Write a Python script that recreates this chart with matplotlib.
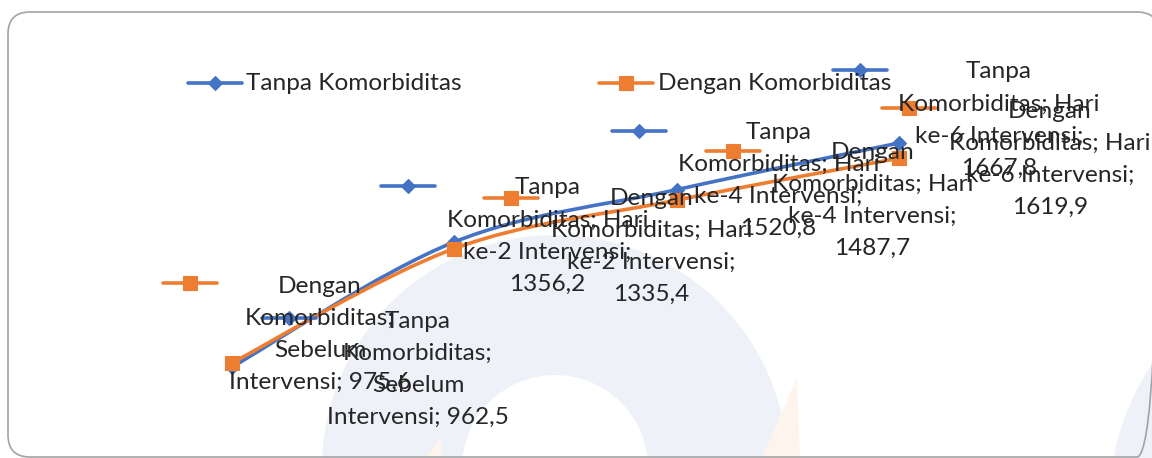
import textwrap
import matplotlib
matplotlib.use('Agg')
import matplotlib.pyplot as plt
from matplotlib.path import Path
from matplotlib.patches import PathPatch, FancyBboxPatch, Wedge, Polygon
from matplotlib.lines import Line2D
import matplotlib.transforms as mtransforms

# data
categories = ['Sebelum Intervensi', 'Hari ke-2 Intervensi',
              'Hari ke-4 Intervensi', 'Hari ke-6 Intervensi']
tanpa = [962.5, 1356.2, 1520.8, 1667.8]
dengan = [975.6, 1335.4, 1487.7, 1619.9]
names = ['Tanpa Komorbiditas', 'Dengan Komorbiditas']

# label placement (pixels from the point: text centre, key centre)
tanpa_txt = [(186, -46), (93, -54), (102, -57), (100, -71)]
tanpa_key = [(57, -49), (-46, -56), (-38, -59), (-39, -73)]
dengan_txt = [(88, -76), (197, -50), (196, -48), (151, -47)]
dengan_key = [(-42, -80), (57, -51), (56, -49), (10, -50)]

BLUE = '#4472C4'
ORANGE = '#ED7D31'
TXT = '#262626'
FONT = 'Lato'
FS = 17.6
LINE_H = 32
W, H = 1152, 458

plt.rcParams['font.family'] = [FONT, 'DejaVu Sans']

fig = plt.figure(figsize=(W / 100, H / 100), dpi=100)
ax = fig.add_axes([0, 0, 1, 1])
ax.set_axis_off()
ax.set_xlim(-1.0436, 4.1385)
ax.set_ylim(676.0, 2118.0)

# image pixel coords (origin top-left) -> display
pix = mtransforms.Affine2D().scale(1, -1).translate(0, H)

# faint watermark behind the chart
wm = '#eef1f7'
ax.add_patch(Wedge((555, 468), 233, 0, 360, width=140, transform=pix,
                   facecolor=wm, edgecolor='none', zorder=0))
ax.add_patch(Wedge((1350, 500), 240, 0, 360, width=60, transform=pix,
                   facecolor=wm, edgecolor='none', zorder=0))
ax.add_patch(Polygon([(797, 377), (800, 458), (762, 458)], closed=True,
                     transform=pix, facecolor='#fdf4ee', edgecolor='none', zorder=0))
ax.add_patch(Polygon([(441, 437), (441, 458), (425, 458)], closed=True,
                     transform=pix, facecolor='#fdf4ee', edgecolor='none', zorder=0))

# rounded frame
ax.add_patch(FancyBboxPatch((8, 12), 1151, 445, boxstyle='round,pad=0,rounding_size=22',
                            transform=pix, facecolor='none', edgecolor='#a3a3a3',
                            lw=1.2, clip_on=False, zorder=1))


def smooth_path(xs, ys):
    pts = list(zip(xs, ys))
    verts = [pts[0]]
    codes = [Path.MOVETO]
    n = len(pts)
    for i in range(n - 1):
        p0 = pts[i - 1] if i > 0 else pts[i]
        p1 = pts[i]
        p2 = pts[i + 1]
        p3 = pts[i + 2] if i + 2 < n else pts[i + 1]
        c1 = (p1[0] + (p2[0] - p0[0]) / 6, p1[1] + (p2[1] - p0[1]) / 6)
        c2 = (p2[0] - (p3[0] - p1[0]) / 6, p2[1] - (p3[1] - p1[1]) / 6)
        verts += [c1, c2, p2]
        codes += [Path.CURVE4] * 3
    return Path(verts, codes)


def key(xc, yc, color, marker, ms):
    # legend key: short line with marker in the middle (display coords)
    ax.add_line(Line2D([xc - 27, xc + 27], [yc, yc], color=color, lw=2.6,
                       solid_capstyle='round', transform=None, zorder=6))
    ax.add_line(Line2D([xc], [yc], marker=marker, ms=ms, color=color, mec=color,
                       mew=0.8, transform=None, zorder=6))


xs = list(range(len(categories)))
series = [
    (names[0], tanpa, BLUE, 'D', 7.4, tanpa_txt, tanpa_key),
    (names[1], dengan, ORANGE, 's', 10, dengan_txt, dengan_key),
]

for name, vals, color, marker, ms, _, _ in series:
    ax.add_patch(PathPatch(smooth_path(xs, vals), facecolor='none', edgecolor=color,
                           lw=2.6, zorder=3, capstyle='round'))
    ax.plot(xs, vals, ls='none', marker=marker, ms=ms, color=color, mec=color,
            mew=0.8, zorder=4)

for name, vals, color, marker, ms, txt_off, key_off in series:
    for i, v in enumerate(vals):
        label = '%s; %s; %s' % (name, categories[i], ('%.1f' % v).replace('.', ','))
        lines = textwrap.wrap(label, width=18)
        dx, dy = txt_off[i]
        for j, ln in enumerate(lines):
            ax.annotate(ln, xy=(i, v), xytext=(dx, -(dy + j * LINE_H)),
                        textcoords='offset pixels', ha='center', va='center',
                        fontsize=FS, color=TXT, zorder=7)
        px, py = ax.transData.transform((i, v))
        kx, ky = key_off[i]
        key(px + kx, py - ky, color, marker, ms)

# legend at the top
for (xc, xt), name, color, marker, ms in [((215, 246), names[0], BLUE, 'D', 7.4),
                                          ((626, 658), names[1], ORANGE, 's', 10)]:
    key(xc, H - 83, color, marker, ms)
    ax.text(xt, H - 83, name, transform=None, ha='left', va='center',
            fontsize=FS, color=TXT, zorder=7)

fig.savefig('out.png', dpi=100)
